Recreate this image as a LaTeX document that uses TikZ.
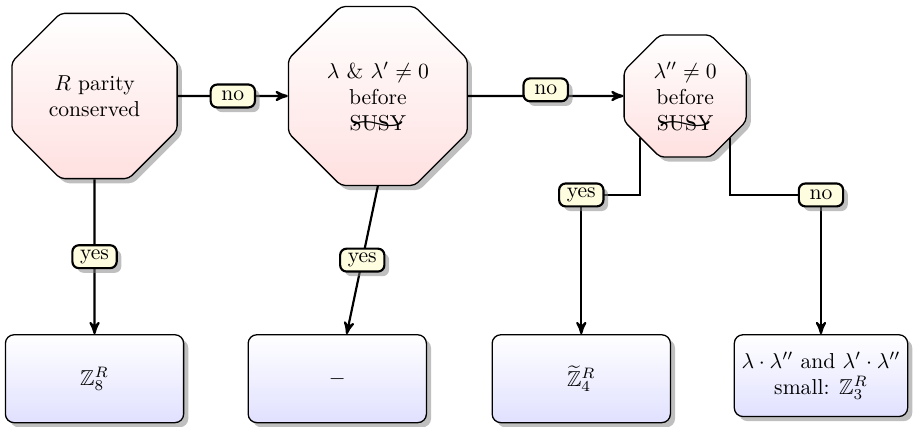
\documentclass[tikz,border=0pt]{standalone}
\usepackage{amsmath,amssymb,graphicx}
\usetikzlibrary{arrows,shapes.geometric,shadows}

\newcommand{\nosusy}{\ooalign{SUSY\cr\hidewidth\raisebox{0.1ex}{\scalebox{3.4}[1]{$\sim$}}\hidewidth\cr}}

\begin{document}
\begin{tikzpicture}[->,>=stealth',line width=1pt,node distance=4.6cm]
      \tikzstyle{question}=[regular polygon,regular polygon sides=8,draw=black,semithick,rounded corners=2pt,top color=white,bottom color=red!12,drop shadow,align=center,inner sep=1pt]
      \tikzstyle{result}=[rectangle,draw=black,semithick,rounded corners=4pt,top color=white,bottom color=blue!12,drop shadow,minimum width=2.9cm,minimum height=1.43cm,align=center]
      \tikzstyle{answer}=[rectangle,draw=black,line width=1pt,rounded corners=3pt,fill=yellow!12,drop shadow,inner sep=1.5pt,minimum width=20.5pt,minimum height=10.6pt]

      \useasboundingbox (-1.538,1.562) rectangle (13.366,-5.385);

      \node[question,minimum size=2.91cm] (Rpar)  at (0,0)                             {$R$ parity\\conserved};
      \node[question,minimum size=3.15cm] (LamLp) [right of=Rpar,node distance=4.61cm] {$\lambda$ \& $\lambda'\neq 0$\\before\\\nosusy};
      \node[question,minimum size=2.15cm] (Lpp)   [right of=LamLp,node distance=5cm]   {$\lambda''\neq 0$\\before\\\nosusy};

      \node[result] (Z8)   [below of=Rpar]                   {$\mathbb{Z}_8^R$};
      \node[result] (none) [right of=Z8,node distance=3.95cm] {$-$};
      \node[result] (Z4)   [right of=none,node distance=3.97cm] {$\widetilde{\mathbb{Z}}_4^R$};
      \node[result,minimum width=2.73cm,minimum height=1.33cm,yshift=0.05cm] (Z3) [right of=Z4,node distance=3.9cm]
            {$\lambda\cdot\lambda''$ and $\lambda'\cdot\lambda''$\\small: $\mathbb{Z}_3^R$};

      \path (Rpar)        edge node[answer]             {no}  (LamLp)
                          edge node[answer]             {yes} (Z8)
            (LamLp.south) edge node[answer]             {yes} (none)
            (LamLp)       edge node[answer,yshift=0.1cm] {no}  (Lpp);

      % the two ways out of the last question
      \coordinate (split) at ([yshift=-1.61cm]Lpp.center);
      \draw (Lpp.223) |- (Z4 |- split) node[answer] {yes} -- (Z4);
      \draw (Lpp.317) |- (Z3 |- split) node[answer] {no}  -- (Z3);
\end{tikzpicture}
\end{document}
